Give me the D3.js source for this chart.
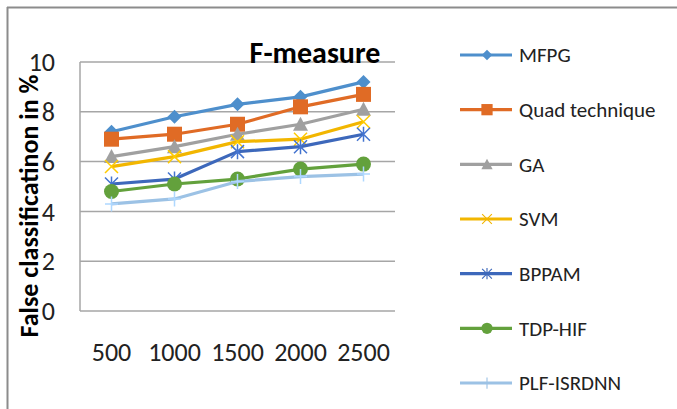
<!DOCTYPE html>
<html><head><meta charset="utf-8">
<script src="https://cdn.jsdelivr.net/npm/d3@7"></script>
<style>html,body{margin:0;padding:0;background:#fff;}svg{display:block;}</style>
</head><body>
<svg id="c" width="677" height="409"></svg>
<script>
const categories = ["500","1000","1500","2000","2500"];
const seriesNames = ["MFPG","Quad technique","GA","SVM","BPPAM","TDP-HIF","PLF-ISRDNN"];
const MFPG = [7.2,7.8,8.3,8.6,9.2];
const Quad = [6.9,7.1,7.5,8.2,8.7];
const GA = [6.2,6.6,7.1,7.5,8.1];
const SVM = [5.8,6.2,6.8,6.9,7.6];
const BPPAM = [5.1,5.3,6.4,6.6,7.1];
const TDPHIF = [4.8,5.1,5.3,5.7,5.9];
const PLF = [4.3,4.5,5.2,5.4,5.5];
const yTicks = [0,2,4,6,8,10];
const title = "F-measure";
const yTitle = "False classificatinon in %";

const seriesValues = [MFPG,Quad,GA,SVM,BPPAM,TDPHIF,PLF];
const colors = ["#4e8fcc","#e06b25","#a0a0a0","#f2b600","#3d68bb","#63a13c","#9cc2e5"];
const markers = ["diamond","square","triangle","x","star","circle","plus"];

(function(){
const svg = d3.select("#c");
const font = "Carlito, Calibri, 'Open Sans', 'Liberation Sans', sans-serif";

svg.append("line").attr("x1",7).attr("x2",677).attr("y1",7.5).attr("y2",7.5).attr("stroke","#8c8c8c").attr("stroke-width",2);
svg.append("line").attr("x1",7.5).attr("x2",7.5).attr("y1",7).attr("y2",409).attr("stroke","#8c8c8c").attr("stroke-width",2);

const pL=80, pR=395, pT=62, pB=311;
const x = d3.scalePoint().domain(categories).range([pL,pR]).padding(0.5);
const y = d3.scaleLinear().domain([0,10]).range([pB,pT]);

svg.append("g").selectAll("line").data(yTicks).join("line")
  .attr("x1",pL).attr("x2",pR).attr("y1",d=>y(d)).attr("y2",d=>y(d))
  .attr("stroke","#a6a6a6").attr("stroke-width",1.5);
svg.append("line").attr("x1",pL).attr("x2",pL).attr("y1",pT).attr("y2",pB).attr("stroke","#a6a6a6").attr("stroke-width",1.5);

svg.append("g").selectAll("text").data(yTicks).join("text")
  .attr("x",55).attr("y",d=>y(d)).attr("dy","0.35em").attr("text-anchor","end")
  .attr("font-family",font).attr("font-size",26).attr("fill","#222").text(d=>d);
svg.append("g").selectAll("text").data(categories).join("text")
  .attr("x",d=>x(d)).attr("y",352).attr("dy","0.35em").attr("text-anchor","middle")
  .attr("font-family",font).attr("font-size",26).attr("fill","#222").text(d=>d);

svg.append("text").attr("x",315).attr("y",63).attr("text-anchor","middle")
  .attr("font-family",font).attr("font-weight","bold").attr("font-size",30).attr("fill","#000").text(title);
svg.append("text").attr("transform","translate(29,206) rotate(-90)").attr("dy","0.35em").attr("text-anchor","middle")
  .attr("font-family",font).attr("font-weight","bold").attr("font-size",26).attr("fill","#000").text(yTitle);

function drawMarker(g, type, cx, cy, color, k){
  const s = g.append("g").attr("transform",`translate(${cx},${cy}) scale(${k})`);
  if(type==="diamond") s.append("path").attr("d","M0,-7L7,0L0,7L-7,0Z").attr("fill",color);
  else if(type==="square") s.append("rect").attr("x",-7.5).attr("y",-7.5).attr("width",15).attr("height",15).attr("fill",color);
  else if(type==="triangle") s.append("path").attr("d","M0,-7.5L7.5,6.5L-7.5,6.5Z").attr("fill",color);
  else if(type==="circle") s.append("circle").attr("r",7.5).attr("fill",color);
  else if(type==="x") s.append("path").attr("d","M-6.5,-6.5L6.5,6.5M-6.5,6.5L6.5,-6.5").attr("stroke",color).attr("stroke-width",1.5).attr("fill","none");
  else if(type==="star") s.append("path").attr("d","M-6.5,-6.5L6.5,6.5M-6.5,6.5L6.5,-6.5M0,-7.5L0,7.5").attr("stroke",color).attr("stroke-width",1.5).attr("fill","none");
  else if(type==="plus") s.append("path").attr("d","M-6.5,0L6.5,0M0,-7.5L0,7.5").attr("stroke",color).attr("stroke-width",1.5).attr("fill","none");
}

const line = d3.line().x((d,i)=>x(categories[i])).y(d=>y(d));
const plot = svg.append("g");
seriesValues.forEach((vals,si)=>{
  const c = colors[si];
  const g = plot.append("g");
  g.append("path").datum(vals).attr("d",line).attr("fill","none").attr("stroke",c).attr("stroke-width",3.2).attr("stroke-linejoin","round");
  const mc = (markers[si]==="x"||markers[si]==="star"||markers[si]==="plus") ? d3.color(c).brighter(0.3).formatHex() : c;
  vals.forEach((v,i)=>drawMarker(g, markers[si], x(categories[i]), y(v), mc, 1));
});

const legY = d3.scalePoint().domain(seriesNames).range([55,383]);
const leg = svg.append("g");
seriesNames.forEach((n,i)=>{
  const yy = legY(n);
  leg.append("line").attr("x1",460).attr("x2",512).attr("y1",yy).attr("y2",yy).attr("stroke",colors[i]).attr("stroke-width",3.2);
  drawMarker(leg, markers[i], 487, yy, colors[i], 0.75);
  leg.append("text").attr("x",519).attr("y",yy).attr("dy","0.35em").attr("font-family",font).attr("font-size",21).attr("fill","#222").text(n);
});
})();
</script>
</body></html>
